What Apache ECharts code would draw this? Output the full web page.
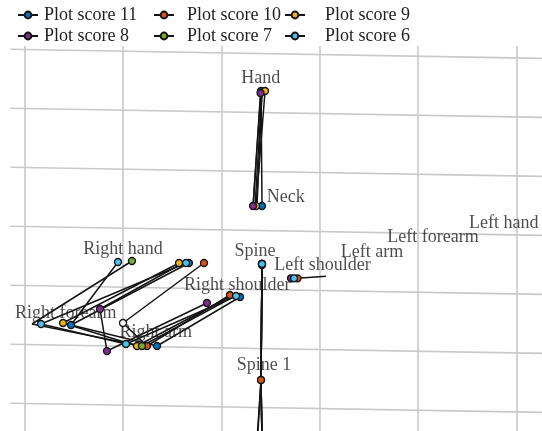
<!DOCTYPE html>
<html><head><meta charset="utf-8">
<script src="https://cdn.jsdelivr.net/npm/echarts@6/dist/echarts.min.js"></script>
<style>html,body{margin:0;padding:0;background:#fff}#c{width:542px;height:431px}</style>
</head><body><div id="c"></div><script>
// ---------- data ----------
const scores = ['Plot score 11','Plot score 10','Plot score 9','Plot score 8','Plot score 7','Plot score 6'];
const scoreColors = ['#0072BD','#D95319','#EDB120','#7E2F8E','#77AC30','#4DBEEE'];
const joints = ['Hand','Neck','Spine','Spine 1','Base','Left shoulder','Left arm',
  'Right shoulder','Right arm','Right forearm','Right hand','Right forearm b','Right hand b'];
const bones = [[0,1],[2,3],[3,4],[5,6],[10,9],[9,8],[8,7],[11,12]];

const s11 = [[2.402,5.293],[2.412,3.344],[2.412,2.361],[2.402,0.395],[2.412,-0.622],[2.717,2.119],null,[2.188,1.802],[1.344,0.971],[0.469,1.327],[1.669,2.378],null,null];
const s10 = [[2.412,5.276],[2.361,3.344],[2.412,2.344],[2.402,0.395],[2.361,-0.622],[2.773,2.119],[3.063,2.154],[2.086,1.836],[1.242,0.971],[0.998,1.361],[1.822,2.378],null,null];
const s9  = [[2.443,5.293],[2.351,3.344],[2.412,2.361],[2.402,0.395],[2.412,-0.622],[2.727,2.119],null,[2.117,1.836],[1.140,0.971],[0.388,1.361],[1.568,2.378],null,null];
const s8  = [[2.397,5.259],[2.321,3.344],[2.412,2.361],[2.402,0.395],[2.366,-0.622],[2.707,2.119],null,[1.852,1.700],[0.835,0.886],[0.764,1.598],[1.608,2.378],null,null];
const s7  = [[2.412,5.276],[2.341,3.344],[2.412,2.361],[2.402,0.395],[2.412,-0.622],[2.727,2.119],null,[2.137,1.819],[1.191,0.971],[0.072,1.344],[1.089,2.412],null,null];
const s6  = [[2.402,5.293],[2.321,3.344],[2.412,2.361],[2.402,0.395],[2.412,-0.622],[2.738,2.119],null,[2.148,1.819],[1.028,1.005],[0.164,1.344],[1.639,2.378],[0.469,1.327],[0.947,2.395]];
const seriesJoints = [s11,s10,s9,s8,s7,s6];

// marker state per joint: 0 = no marker, 1 = marker, 2 = empty marker
const m11 = [1,1,1,1,0,0,0,1,1,1,1,0,0];
const m10 = [0,0,1,1,0,1,0,1,1,2,1,0,0];
const m9  = [1,1,1,0,0,0,0,0,1,1,1,0,0];
const m8  = [1,1,1,0,0,1,0,1,1,1,0,0,0];
const m7  = [0,0,1,0,0,0,0,0,1,0,1,0,0];
const m6  = [0,0,1,0,0,1,0,1,1,1,1,0,1];
const seriesMarkers = [m11,m10,m9,m8,m7,m6];

const labelNames = ['Hand','Neck','Spine','Spine 1','Left shoulder','Left arm','Left forearm','Left hand','Right hand','Right shoulder','Right forearm','Right arm'];
const labelX = [2.400,2.654,2.341,2.432,3.027,3.531,4.152,4.872,0.998,2.160,0.416,1.332];
const labelY = [5.508,3.488,2.569,0.641,2.336,2.561,2.819,3.056,2.603,2.002,1.525,1.197];

const gridX = [0,1,2,3,4,5];
const gridY = [0,1,2,3,4,5,6];

// ---------- build ----------
const FONT = 'Liberation Serif';
const TEXT = '#1f1f1f';
const xMin = -0.2533, xMax = 5.2604, yMin = -0.4695, yMax = 6.8356;
const gridTilt = 0.1532;

function pointItem(p, st) {
  return {
    value: p,
    symbol: st ? 'circle' : 'none',
    itemStyle: st === 2 ? { color: '#ffffff' } : undefined
  };
}
function buildPath(pts, marks) {
  const out = [];
  const used = new Set();
  bones.forEach(([a, b]) => {
    if (!pts[a] || !pts[b]) return;
    [a, b].forEach(j => {
      out.push(pointItem(pts[j], used.has(j) ? 0 : marks[j]));
      used.add(j);
    });
    out.push({ value: ['-', '-'], symbol: 'none' });
  });
  // joints that are marked but not joined to another joint
  pts.forEach((p, j) => {
    if (p && marks[j] && !used.has(j)) {
      out.push(pointItem(p, marks[j]));
      out.push({ value: ['-', '-'], symbol: 'none' });
    }
  });
  return out;
}

const series = [];
series.push({
  type: 'lines', coordinateSystem: 'cartesian2d', silent: true, z: 1,
  lineStyle: { color: '#c9c9c9', width: 1.6, opacity: 1 },
  data: [
    ...gridX.map(u => ({ coords: [[u, 6.056], [u, yMin]] })),
    ...gridY.map(g => ({ coords: [[-0.1475, g], [xMax, g - gridTilt]] }))
  ]
});
series.push({
  type: 'scatter', silent: true, z: 2, symbolSize: 0,
  data: labelNames.map((n, i) => ({ name: n, value: [labelX[i], labelY[i]] })),
  label: { show: true, position: 'inside', formatter: '{b}', fontFamily: FONT, fontSize: 18, color: TEXT }
});
scores.forEach((name, i) => {
  series.push({
    name, type: 'line', z: 3, silent: true, connectNulls: false,
    symbol: 'circle', symbolSize: 7, showSymbol: true,
    lineStyle: { color: '#141414', width: 1.5 },
    itemStyle: { color: scoreColors[i], borderColor: '#141414', borderWidth: 1.3 },
    emphasis: { disabled: true },
    data: buildPath(seriesJoints[i], seriesMarkers[i])
  });
});

const legendCols = [[0,3],[1,4],[2,5]];
const legendLeft = [17,153,284];
const legendPad = [1,8,15];

const chart = echarts.init(document.getElementById('c'), null, { renderer: 'canvas' });
chart.setOption({
  animation: false,
  backgroundColor: '#ffffff',
  grid: { left: 0, right: 0, top: 0, bottom: 0 },
  xAxis: { type: 'value', min: xMin, max: xMax, show: false },
  yAxis: { type: 'value', min: yMin, max: yMax, show: false },
  legend: legendCols.map((c, i) => ({
    orient: 'vertical', left: legendLeft[i], top: 6, padding: 0, itemGap: 3,
    itemWidth: 20, itemHeight: 8.5, selectedMode: false,
    data: c.map(k => scores[k]),
    textStyle: { fontFamily: FONT, fontSize: 18, color: TEXT, padding: [0,0,0,legendPad[i]] }
  })),
  series
});
</script></body></html>
